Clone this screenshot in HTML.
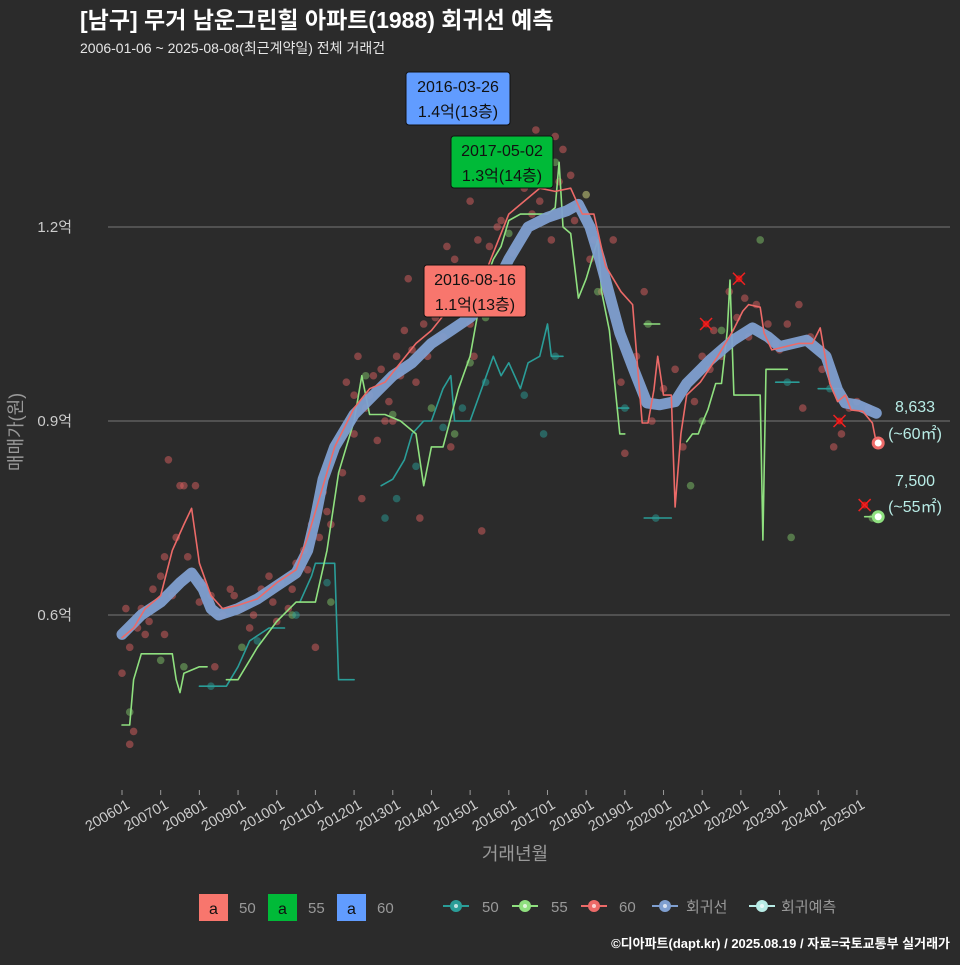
<!DOCTYPE html>
<html><head><meta charset="utf-8">
<style>
html,body{margin:0;padding:0;background:#2b2b2b;}
body{width:960px;height:960px;overflow:hidden;font-family:"Liberation Sans","Noto Sans CJK KR",sans-serif;}
svg text{font-family:"Liberation Sans","Noto Sans CJK KR",sans-serif;}
</style></head>
<body>
<svg id="chart" width="960" height="960" xmlns="http://www.w3.org/2000/svg">
<rect x="0" y="0" width="960" height="960" fill="#2b2b2b"/>
<text x="80" y="28" fill="#ffffff" font-size="23" font-weight="bold">[남구] 무거 남운그린힐 아파트(1988) 회귀선 예측</text>
<text x="80" y="53" fill="#e6e6e6" font-size="14">2006-01-06 ~ 2025-08-08(최근계약일) 전체 거래건</text>
<g id="grid"></g>
<g id="marks"></g>
<g id="ann"></g>
<text x="515" y="860" fill="#999" font-size="18" text-anchor="middle">거래년월</text>
<text transform="translate(22,432) rotate(-90)" fill="#999" font-size="18" text-anchor="middle">매매가(원)</text>
<g id="legend"></g>
<text x="950" y="948" fill="#ffffff" font-size="13" font-weight="bold" text-anchor="end">©디아파트(dapt.kr) / 2025.08.19 / 자료=국토교통부 실거래가</text>
</svg>
<script>
const yTicks=[0.6,0.9,1.2];
const yTickLabels=["0.6억","0.9억","1.2억"];
const xTickYears=[2006,2007,2008,2009,2010,2011,2012,2013,2014,2015,2016,2017,2018,2019,2020,2021,2022,2023,2024,2025];
const xTickLabels=["200601","200701","200801","200901","201001","201101","201201","201301","201401","201501","201601","201701","201801","201901","202001","202101","202201","202301","202401","202501"];
const regT=[2006.0,2006.5,2007.0,2007.5,2007.8,2008.1,2008.3,2008.5,2009.0,2009.5,2010.0,2010.5,2010.8,2011.0,2011.2,2011.5,2012.0,2012.5,2013.0,2013.5,2014.0,2014.5,2015.0,2015.5,2016.0,2016.5,2017.0,2017.5,2017.8,2018.1,2018.36,2018.87,2019.2,2019.57,2019.9,2020.3,2020.6,2021.2,2021.8,2022.3,2022.7,2023.0,2023.7,2024.2,2024.5,2024.7,2025.0,2025.5];
const regV=[0.57,0.60,0.62,0.65,0.665,0.64,0.61,0.60,0.61,0.625,0.645,0.665,0.70,0.75,0.81,0.86,0.91,0.94,0.97,0.99,1.02,1.04,1.06,1.09,1.15,1.20,1.215,1.225,1.235,1.20,1.149,1.036,0.984,0.928,0.925,0.93,0.958,0.994,1.025,1.044,1.03,1.015,1.025,1.0,0.948,0.928,0.925,0.912];
const s60T=[2006.0,2006.3,2006.6,2007.0,2007.3,2007.6,2007.8,2008.0,2008.3,2008.6,2009.0,2009.5,2010.0,2010.5,2010.8,2011.2,2011.5,2012.0,2012.4,2012.8,2013.2,2013.6,2014.0,2014.4,2014.8,2015.2,2015.6,2016.0,2016.4,2016.8,2017.2,2017.6,2017.9,2018.2,2018.5,2018.9,2019.2,2019.35,2019.45,2019.6,2019.75,2019.85,2020.0,2020.2,2020.3,2020.45,2020.6,2020.95,2021.4,2021.8,2022.05,2022.2,2022.5,2022.6,2022.8,2023.5,2023.85,2024.05,2024.3,2024.5,2024.7,2024.85,2025.15,2025.4,2025.5];
const s60V=[0.565,0.58,0.61,0.63,0.70,0.74,0.765,0.68,0.63,0.61,0.615,0.625,0.65,0.67,0.72,0.80,0.86,0.92,0.95,0.96,0.99,1.02,1.04,1.07,1.09,1.10,1.16,1.22,1.24,1.26,1.255,1.26,1.22,1.22,1.14,1.10,1.08,0.968,0.897,0.897,0.948,1.0,0.94,0.94,0.767,0.88,0.94,0.96,1.0,1.04,1.07,1.08,1.076,1.036,1.01,1.02,1.02,1.044,0.958,0.93,0.94,0.917,0.915,0.897,0.866];
const s55A_T=[2006.0,2006.2,2006.3,2006.5,2007.3,2007.4,2007.5,2007.6,2008.0,2008.2];
const s55A_V=[0.43,0.43,0.50,0.54,0.54,0.50,0.48,0.51,0.52,0.52];
const s55B_T=[2008.7,2009.0,2009.5,2010.0,2010.5,2011.0,2011.3,2011.6,2012.0,2012.2,2012.4,2012.8,2013.2,2013.6,2013.8,2014.0,2014.3,2014.7,2015.0,2015.3,2015.6,2015.8,2016.0,2016.3,2016.6,2017.0,2017.2,2017.3,2017.4,2017.6,2017.8,2018.0,2018.3,2018.4,2018.6,2018.87,2019.0];
const s55B_V=[0.50,0.50,0.55,0.59,0.62,0.62,0.70,0.82,0.90,0.97,0.91,0.91,0.90,0.88,0.80,0.86,0.86,0.95,1.00,1.10,1.15,1.17,1.21,1.22,1.22,1.22,1.23,1.30,1.20,1.19,1.09,1.12,1.18,1.10,1.04,0.88,0.88];
const s55C_T=[2019.5,2019.9];
const s55C_V=[1.05,1.05];
const s55D_T=[2020.6,2020.75,2020.9,2021.0,2021.15,2021.35,2021.5,2021.65,2021.72,2021.82,2022.3,2022.5,2022.57,2022.65,2023.2];
const s55D_V=[0.868,0.88,0.88,0.897,0.918,0.958,0.958,1.04,1.118,0.94,0.94,0.94,0.716,0.98,0.98];
const s55E_T=[2025.2,2025.55];
const s55E_V=[0.752,0.752];
const s50A_T=[2008.0,2008.7,2009.0,2009.3,2009.8,2010.2];
const s50A_V=[0.49,0.49,0.52,0.56,0.58,0.58];
const s50B_T=[2010.6,2010.9,2011.0,2011.5,2011.6,2012.0];
const s50B_V=[0.62,0.66,0.68,0.68,0.50,0.50];
const s50C_T=[2012.7,2013.0,2013.3,2013.5,2013.8,2014.0,2014.3,2014.5,2014.6,2015.0,2015.3,2015.6,2015.8,2016.0,2016.3,2016.5,2016.8,2017.0,2017.1,2017.4];
const s50C_V=[0.80,0.81,0.84,0.88,0.90,0.90,0.95,0.97,0.90,0.90,0.95,1.00,0.97,0.99,0.95,0.99,1.00,1.05,1.00,1.00];
const s50D_T=[2018.8,2019.1];const s50D_V=[0.92,0.92];
const s50E_T=[2019.5,2020.2];const s50E_V=[0.75,0.75];
const s50F_T=[2022.9,2023.5];const s50F_V=[0.96,0.96];
const s50G_T=[2024.0,2024.6];const s50G_V=[0.95,0.95];
const pts60T=[2006.0,2006.1,2006.2,2006.3,2006.4,2006.5,2006.6,2006.8,2007.0,2007.1,2007.2,2007.4,2007.5,2007.6,2007.7,2007.9,2008.1,2008.3,2008.6,2008.9,2009.1,2009.3,2009.6,2009.9,2010.1,2010.3,2010.5,2010.7,2010.9,2011.1,2011.2,2011.4,2011.6,2011.8,2012.0,2012.1,2012.3,2012.5,2012.7,2012.9,2013.1,2013.3,2013.4,2013.6,2013.8,2014.0,2014.2,2014.4,2014.6,2014.8,2015.0,2015.2,2015.4,2015.5,2015.7,2015.9,2016.0,2016.2,2016.4,2016.5,2016.7,2016.9,2017.0,2017.2,2017.4,2017.6,2017.8,2018.0,2018.2,2018.4,2018.7,2019.0,2019.3,2019.5,2019.7,2020.0,2020.3,2020.5,2020.8,2021.0,2021.3,2021.5,2021.7,2021.9,2022.1,2022.4,2022.7,2022.9,2023.2,2023.5,2023.8,2024.1,2024.4,2024.6,2025.0,2025.3,2006.2,2007.1,2008.4,2010.0,2011.0,2012.2,2013.0,2014.5,2015.3,2016.3,2017.1,2018.9,2023.6,2012.6,2013.7,2015.1,2006.7,2007.3,2008.0,2008.8,2009.4,2009.8,2010.4,2010.8,2011.3,2011.7,2012.0,2012.4,2012.8,2013.2,2013.5,2013.9,2014.1,2014.3,2014.7,2015.0,2015.6,2015.8,2016.1,2016.6,2016.8,2017.3,2017.7,2018.1,2021.2,2022.2,2023.0,2024.8];
const pts60V=[0.51,0.61,0.55,0.42,0.58,0.61,0.57,0.64,0.66,0.69,0.84,0.72,0.80,0.80,0.69,0.80,0.65,0.63,0.60,0.63,0.61,0.58,0.64,0.62,0.65,0.61,0.68,0.70,0.74,0.72,0.79,0.74,0.87,0.96,0.94,1.00,0.92,0.97,0.98,0.93,1.00,1.04,1.12,0.96,1.05,1.10,1.08,1.17,1.15,1.13,1.24,1.18,1.12,1.17,1.20,1.10,1.29,1.27,1.26,1.30,1.35,1.30,1.28,1.34,1.32,1.28,1.23,1.25,1.18,1.10,1.18,0.85,1.00,1.10,0.90,0.95,0.98,0.86,0.93,1.00,1.04,1.00,1.10,1.06,1.09,1.08,1.05,1.02,1.05,1.08,1.03,0.98,0.86,0.88,0.93,0.92,0.40,0.57,0.52,0.59,0.55,0.78,0.90,0.86,0.73,1.10,1.18,0.96,0.92,0.87,0.75,1.00,0.59,0.63,0.62,0.64,0.60,0.66,0.64,0.67,0.76,0.82,0.88,0.94,0.90,0.97,1.01,1.00,1.06,1.03,1.08,1.05,1.12,1.21,1.16,1.22,1.24,1.27,1.21,1.15,0.98,1.03,1.01,0.92];
const pts55T=[2006.2,2007.0,2007.6,2009.1,2010.4,2011.4,2012.3,2013.0,2014.0,2014.6,2015.0,2015.4,2016.0,2017.2,2018.0,2018.3,2019.6,2020.7,2021.0,2021.5,2022.5,2023.3,2025.4];
const pts55V=[0.45,0.53,0.52,0.55,0.60,0.62,0.97,0.91,0.92,0.88,0.99,1.06,1.19,1.30,1.25,1.10,1.05,0.80,0.90,1.04,1.18,0.72,0.75];
const pts50T=[2008.3,2009.5,2010.5,2011.3,2012.8,2013.1,2013.6,2014.3,2014.8,2015.4,2016.4,2016.9,2017.2,2019.0,2019.8,2023.2,2024.3];
const pts50V=[0.49,0.56,0.60,0.65,0.75,0.78,0.83,0.89,0.92,0.96,0.94,0.88,1.00,0.92,0.75,0.96,0.95];
const crossT=[2021.1,2021.95,2024.55,2025.2];
const crossV=[1.05,1.12,0.90,0.77];

const NS="http://www.w3.org/2000/svg";
const X=t=>122+(t-2006)*38.68;
const Y=v=>227+(1.2-v)*646.7;
function mk(tag,attrs,parent){const e=document.createElementNS(NS,tag);for(const k in attrs)e.setAttribute(k,attrs[k]);parent.appendChild(e);return e;}
const grid=document.getElementById('grid'),marks=document.getElementById('marks'),ann=document.getElementById('ann'),lg=document.getElementById('legend');
yTicks.forEach((v,i)=>{
  const l=mk('line',{x1:108,x2:950,y1:Y(v),y2:Y(v),stroke:'#777','stroke-width':1},grid);
  
  
  const t=mk('text',{x:72,y:Y(v)+5,fill:'#ccc','font-size':15,'text-anchor':'end'},grid);
  t.textContent=yTickLabels[i];
  
  
});
xTickYears.forEach((yr,i)=>{
  const x=X(yr);
  const tk=mk('line',{x1:x,x2:x,y1:790,y2:795,stroke:'#999'},grid);
  
  
  const t=mk('text',{transform:`translate(${x+4},${799}) rotate(-30)`,fill:'#ccc','font-size':14.5,'text-anchor':'end','dominant-baseline':'hanging'},grid);
  t.textContent=xTickLabels[i];
  
  
});
function dots(T,V,color,name){T.forEach((t,i)=>{const c=mk('circle',{cx:X(t),cy:Y(V[i]),r:3.8,fill:color,'fill-opacity':0.5},marks);
  
  });}
dots(pts60T,pts60V,'#d9605f','scatter-point-60');
dots(pts55T,pts55V,'#7fc46a','scatter-point-55');
dots(pts50T,pts50V,'#2a9d98','scatter-point-50');
function line(T,V,color,w,name,op){const d=T.map((t,i)=>(i?'L':'M')+X(t).toFixed(1)+','+Y(V[i]).toFixed(1)).join('');
  const p=mk('path',{d:d,fill:'none',stroke:color,'stroke-width':w,'stroke-linejoin':'round','stroke-linecap':'round','stroke-opacity':op||1},marks);
  
  }
[[s50A_T,s50A_V],[s50B_T,s50B_V],[s50C_T,s50C_V],[s50D_T,s50D_V],[s50E_T,s50E_V],[s50F_T,s50F_V],[s50G_T,s50G_V]].forEach(s=>line(s[0],s[1],'#2a9d98',1.6,'line-50'));
[[s55A_T,s55A_V],[s55B_T,s55B_V],[s55C_T,s55C_V],[s55D_T,s55D_V],[s55E_T,s55E_V]].forEach(s=>line(s[0],s[1],'#8fe07f',1.6,'line-55'));
line(regT,regV,'#7f9fd0',11,'regression-line',0.95);
line(s60T,s60V,'#ec6a68',1.6,'line-60');
crossT.forEach((t,i)=>{const x=X(t),y=Y(crossV[i]);
  const g=mk('g',{},marks);
  
  
  mk('circle',{cx:x,cy:y,r:3.5,fill:'#cc1111'},g);
  mk('path',{d:`M${x-6},${y-6}L${x+6},${y+6}M${x+6},${y-6}L${x-6},${y+6}`,stroke:'#ee2222','stroke-width':1.5},g);});
function endDot(t,v,color,name){const c=mk('circle',{cx:X(t),cy:Y(v),r:5,fill:'#fff',stroke:color,'stroke-width':3},marks);
  
  }
endDot(2025.55,0.866,'#ec6a68','last-point-60');
endDot(2025.55,0.752,'#8fe07f','last-point-55');
function txt(x,y,s,size,color,anchor,name,parent){const t=mk('text',{x:x,y:y,fill:color,'font-size':size,'text-anchor':anchor||'start'},parent||ann);t.textContent=s;
  
  return t;}
txt(915,412,'8,633',16,'#b8ece6','middle','end-label-value-60');
txt(915,439,'(~60㎡)',16,'#b8ece6','middle','end-label-area-60');
txt(915,486,'7,500',16,'#b8ece6','middle','end-label-value-55');
txt(915,512,'(~55㎡)',16,'#b8ece6','middle','end-label-area-55');
function box(x,y,w,h,fill,l1,l2,name){const r=mk('rect',{x:x,y:y,width:w,height:h,rx:3,fill:fill,stroke:'#111','stroke-width':1},ann);
  
  
  txt(x+w/2,y+20,l1,16,'#111','middle',name+'-date');
  txt(x+w/2,y+45,l2,16,'#111','middle',name+'-price');}
box(406,72,104,53,'#619cff','2016-03-26','1.4억(13층)','max-label-60');
box(451,136,102,52,'#00ba38','2017-05-02','1.3억(14층)','max-label-55');
box(424,265,102,52,'#f8766d','2016-08-16','1.1억(13층)','max-label-50');
// legend
const fillKeys=[['#f8766d','50',199],['#00ba38','55',268],['#619cff','60',337]];
fillKeys.forEach(k=>{const x=k[2];
  const r=mk('rect',{x:x,y:894,width:29,height:27,fill:k[0]},lg);
  
  
  txt(x+14.5,914,'a',16,'#111','middle','legend-key-glyph',lg);
  txt(x+40,913,k[1],15,'#999','start','legend-label-text',lg);});
const lineKeys=[['#2a9d98','50',456,482],['#8fe07f','55',525,551],['#ec6a68','60',594,619],['#7f9fd0','회귀선',665,686],['#b8ece6','회귀예측',762,781]];
lineKeys.forEach(k=>{const x=k[2];
  const g=mk('g',{},lg);
  
  
  mk('line',{x1:x-13,x2:x+13,y1:906,y2:906,stroke:k[0],'stroke-width':2},g);
  mk('circle',{cx:x,cy:906,r:6,fill:k[0]},g);
  mk('circle',{cx:x,cy:906,r:2,fill:'#fff','fill-opacity':0.7},g);
  txt(k[3],912,k[1],15,'#999','start','legend-entry-text',g);});
</script>
</body></html>
